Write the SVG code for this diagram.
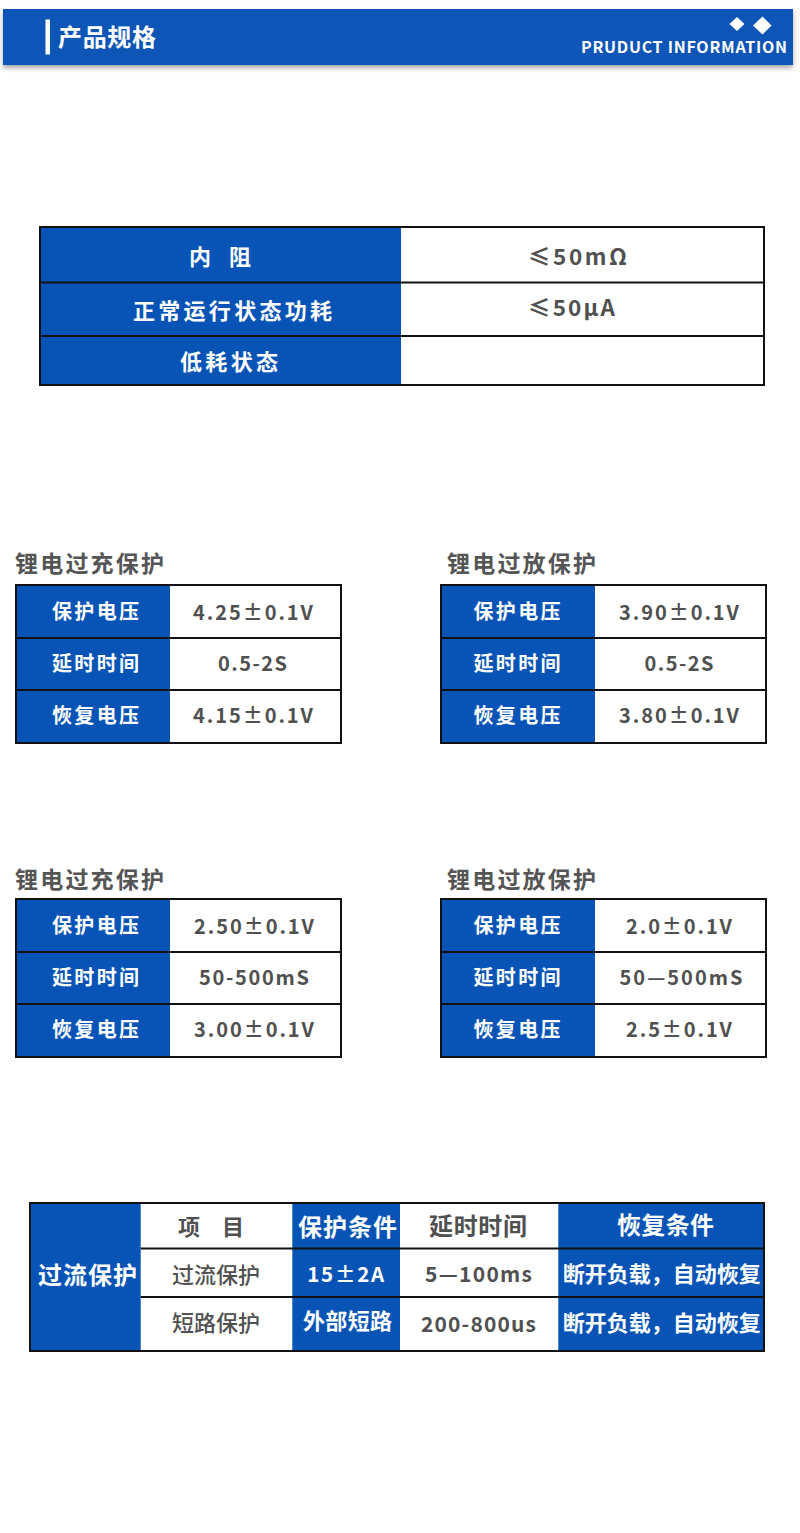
<svg xmlns="http://www.w3.org/2000/svg" width="800" height="1533" viewBox="0 0 800 1533">
<defs>
<filter id="sh" x="-5%" y="-30%" width="110%" height="180%">
<feDropShadow dx="0" dy="3" stdDeviation="2.5" flood-color="#000" flood-opacity="0.35"/>
</filter>
</defs>
<style>
text{font-family:"Noto Sans CJK SC","Noto Sans",sans-serif;}
.blue{fill:#0754b6;}
.grid{fill:none;stroke:#111;stroke-width:2;}
.ln{stroke:#111;stroke-width:2;}
.w{fill:#fff;font-weight:700;}
.g{fill:#505050;font-weight:700;}
.gm{fill:#505050;font-weight:500;}
.m{text-anchor:middle;}
.lbl{font-size:20px;}
.val{font-size:20px;}
.ttl{font-size:23px;fill:#555;font-weight:700;}
</style>
<rect width="800" height="1533" fill="#fff"/>

<g id="header">
<rect x="3" y="9" width="790" height="56" class="blue" filter="url(#sh)"/>
<rect x="45.5" y="19.5" width="4.5" height="35" fill="#fff"/>
<text x="58" y="46" class="w" font-size="24" textLength="98" lengthAdjust="spacing">产品规格</text>
<polygon points="737,17 744.5,24 737,31 729.5,24" fill="#fff"/>
<polygon points="762.5,16.5 771.5,25.5 762.5,34.5 753,25.5" fill="#fff"/>
<text x="581" y="53" class="w" font-size="16" textLength="206" lengthAdjust="spacing">PRUDUCT INFORMATION</text>
</g>

<g id="table-basic">
<rect x="40" y="227" width="361" height="158" class="blue"/>
<rect x="40" y="227" width="724" height="158" class="grid"/>
<line x1="40" y1="282.5" x2="764" y2="282.5" class="ln"/>
<line x1="40" y1="336" x2="764" y2="336" class="ln"/>
<text x="220" y="265" class="w m" font-size="22" word-spacing="8" textLength="62" lengthAdjust="spacing">内 阻</text>
<text x="232.5" y="319" class="w m" font-size="22" textLength="199" lengthAdjust="spacing">正常运行状态功耗</text>
<text x="229" y="370" class="w m" font-size="22" textLength="98" lengthAdjust="spacing">低耗状态</text>
<text x="528" y="264.5" class="g" font-size="22.5" textLength="99" lengthAdjust="spacing">≤50mΩ</text>
<text x="528" y="315.5" class="g" font-size="22.5" textLength="87" lengthAdjust="spacing">≤50μA</text>
</g>

<g id="overcharge-1">
<text x="15" y="572" class="ttl" textLength="149" lengthAdjust="spacing">锂电过充保护</text>
<rect x="16" y="585" width="154" height="158" class="blue"/>
<rect x="16" y="585" width="325" height="158" class="grid"/>
<line x1="16" y1="638" x2="341" y2="638" class="ln"/>
<line x1="16" y1="690" x2="341" y2="690" class="ln"/>
<text x="95.5" y="619" class="w m lbl" textLength="87" lengthAdjust="spacing">保护电压</text>
<text x="95.5" y="671" class="w m lbl" textLength="87" lengthAdjust="spacing">延时时间</text>
<text x="95.5" y="723" class="w m lbl" textLength="87" lengthAdjust="spacing">恢复电压</text>
<text x="253" y="620" class="g m val" textLength="120" lengthAdjust="spacing">4.25±0.1V</text>
<text x="252.5" y="671" class="g m val" textLength="69" lengthAdjust="spacing">0.5-2S</text>
<text x="253" y="723" class="g m val" textLength="120" lengthAdjust="spacing">4.15±0.1V</text>
</g>

<g id="overdischarge-1">
<text x="447" y="572" class="ttl" textLength="149" lengthAdjust="spacing">锂电过放保护</text>
<rect x="441" y="585" width="154" height="158" class="blue"/>
<rect x="441" y="585" width="325" height="158" class="grid"/>
<line x1="441" y1="638" x2="766" y2="638" class="ln"/>
<line x1="441" y1="690" x2="766" y2="690" class="ln"/>
<text x="517" y="619" class="w m lbl" textLength="87" lengthAdjust="spacing">保护电压</text>
<text x="517" y="671" class="w m lbl" textLength="87" lengthAdjust="spacing">延时时间</text>
<text x="517" y="723" class="w m lbl" textLength="87" lengthAdjust="spacing">恢复电压</text>
<text x="679" y="620" class="g m val" textLength="120" lengthAdjust="spacing">3.90±0.1V</text>
<text x="679" y="671" class="g m val" textLength="69" lengthAdjust="spacing">0.5-2S</text>
<text x="679" y="723" class="g m val" textLength="120" lengthAdjust="spacing">3.80±0.1V</text>
</g>

<g id="overcharge-2">
<text x="15" y="888" class="ttl" textLength="149" lengthAdjust="spacing">锂电过充保护</text>
<rect x="16" y="899" width="154" height="158" class="blue"/>
<rect x="16" y="899" width="325" height="158" class="grid"/>
<line x1="16" y1="952" x2="341" y2="952" class="ln"/>
<line x1="16" y1="1004" x2="341" y2="1004" class="ln"/>
<text x="95.5" y="933" class="w m lbl" textLength="87" lengthAdjust="spacing">保护电压</text>
<text x="95.5" y="985" class="w m lbl" textLength="87" lengthAdjust="spacing">延时时间</text>
<text x="95.5" y="1037" class="w m lbl" textLength="87" lengthAdjust="spacing">恢复电压</text>
<text x="254" y="934" class="g m val" textLength="120" lengthAdjust="spacing">2.50±0.1V</text>
<text x="254" y="985" class="g m val" textLength="110" lengthAdjust="spacing">50-500mS</text>
<text x="254" y="1037" class="g m val" textLength="120" lengthAdjust="spacing">3.00±0.1V</text>
</g>

<g id="overdischarge-2">
<text x="447" y="888" class="ttl" textLength="149" lengthAdjust="spacing">锂电过放保护</text>
<rect x="441" y="899" width="154" height="158" class="blue"/>
<rect x="441" y="899" width="325" height="158" class="grid"/>
<line x1="441" y1="952" x2="766" y2="952" class="ln"/>
<line x1="441" y1="1004" x2="766" y2="1004" class="ln"/>
<text x="517" y="933" class="w m lbl" textLength="87" lengthAdjust="spacing">保护电压</text>
<text x="517" y="985" class="w m lbl" textLength="87" lengthAdjust="spacing">延时时间</text>
<text x="517" y="1037" class="w m lbl" textLength="87" lengthAdjust="spacing">恢复电压</text>
<text x="679" y="934" class="g m val" textLength="106" lengthAdjust="spacing">2.0±0.1V</text>
<text x="681" y="985" class="g m val" textLength="123" lengthAdjust="spacing">50—500mS</text>
<text x="679" y="1037" class="g m val" textLength="106" lengthAdjust="spacing">2.5±0.1V</text>
</g>

<g id="overcurrent-table">
<rect x="30" y="1203" width="110.7" height="148" class="blue"/>
<rect x="292.3" y="1203" width="107.7" height="148" class="blue"/>
<rect x="558.3" y="1203" width="205.7" height="148" class="blue"/>
<rect x="30" y="1203" width="734" height="148" class="grid"/>
<line x1="140.7" y1="1248.5" x2="764" y2="1248.5" class="ln"/>
<line x1="140.7" y1="1297" x2="764" y2="1297" class="ln"/>
<text x="87.5" y="1284" class="w m" font-size="24" textLength="99" lengthAdjust="spacing">过流保护</text>
<text x="211" y="1235" class="g m" font-size="22" word-spacing="17" textLength="66" lengthAdjust="spacing">项 目</text>
<text x="216" y="1283" class="gm m" font-size="22" textLength="88" lengthAdjust="spacing">过流保护</text>
<text x="216" y="1331" class="gm m" font-size="22" textLength="88" lengthAdjust="spacing">短路保护</text>
<text x="347.5" y="1236" class="w m" font-size="24" textLength="99" lengthAdjust="spacing">保护条件</text>
<text x="345.7" y="1282" class="w m" font-size="20.5" textLength="77" lengthAdjust="spacing">15±2A</text>
<text x="347.5" y="1329" class="w m" font-size="22" textLength="89" lengthAdjust="spacing">外部短路</text>
<text x="478" y="1235" class="g m" font-size="24" textLength="98" lengthAdjust="spacing">延时时间</text>
<text x="478.5" y="1282" class="g m" font-size="21" textLength="107" lengthAdjust="spacing">5—100ms</text>
<text x="478.5" y="1332" class="g m" font-size="21" textLength="115" lengthAdjust="spacing">200-800us</text>
<text x="665.5" y="1234" class="w m" font-size="24" textLength="97" lengthAdjust="spacing">恢复条件</text>
<text x="661.7" y="1282" class="w m" font-size="22" textLength="198" lengthAdjust="spacing">断开负载，自动恢复</text>
<text x="661.7" y="1331" class="w m" font-size="22" textLength="198" lengthAdjust="spacing">断开负载，自动恢复</text>
</g>
</svg>
